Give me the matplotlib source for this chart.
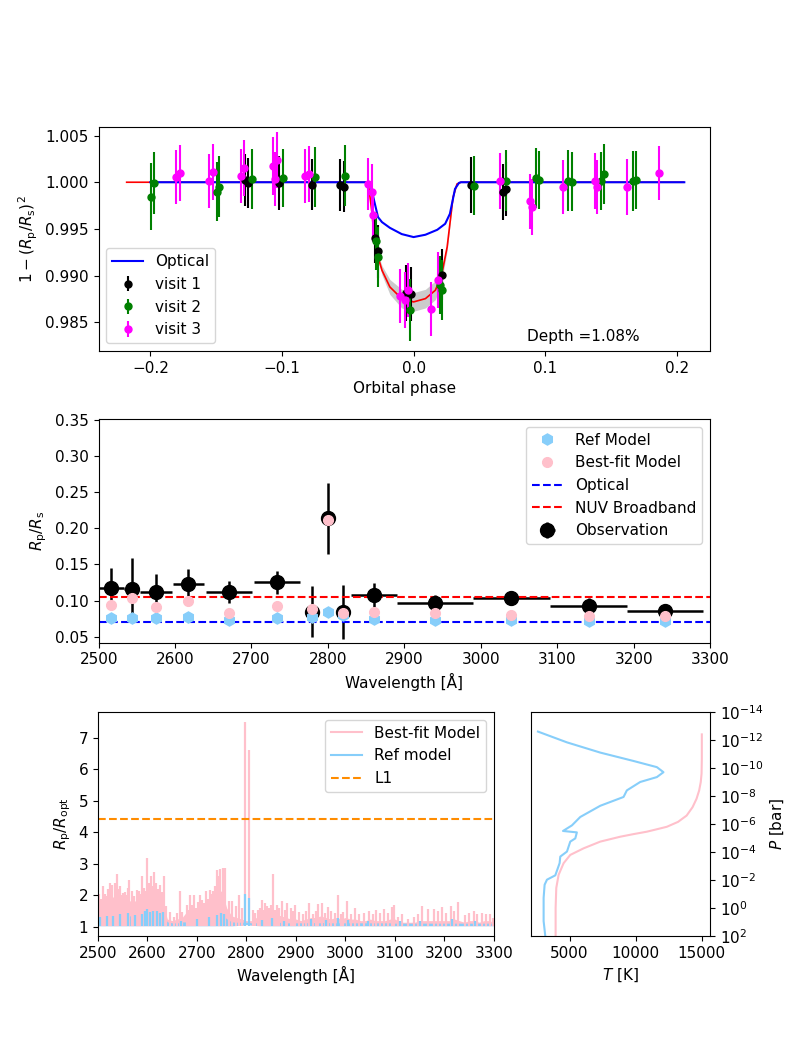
import numpy as np
import matplotlib
matplotlib.use("Agg")
import matplotlib.pyplot as plt
from matplotlib.lines import Line2D

# ---------------- data: light curve ----------------
blue_phase = [-0.200, -0.0330, -0.0300, -0.0270, -0.0240, -0.0180, -0.0090, 0.0, 0.0090, 0.0180, 0.0240, 0.0276, 0.0315, 0.0345, 0.0360, 0.2057]
blue_flux = [1.0, 1.0, 0.99804, 0.99626, 0.99573, 0.99512, 0.99445, 0.99413, 0.99438, 0.99491, 0.99555, 0.99662, 0.99929, 0.99993, 1.0, 1.0]

red_phase = [-0.218, -0.0345, -0.0315, -0.0300, -0.0270, -0.0240, -0.0180, -0.0090, 0.0, 0.0090, 0.0165, 0.0210, 0.0255, 0.0300, 0.0330, 0.0360, 0.205]
red_flux = [1.0, 1.0, 0.9966, 0.9941, 0.9920, 0.99057, 0.98879, 0.98754, 0.98719, 0.98754, 0.98843, 0.98986, 0.99306, 0.99840, 0.99982, 1.0, 1.0]
red_band = [0.0, 0.0, 0.0001, 0.0002, 0.0003, 0.0005, 0.0008, 0.0010, 0.0010, 0.0010, 0.0010, 0.0007, 0.0004, 0.0001, 0.0, 0.0, 0.0]

v1_phase = [-0.1282, -0.1261, -0.1021, -0.0775, -0.0556, -0.0532, -0.0291, -0.0270, -0.0060, -0.0021, 0.0216, 0.0435, 0.0676, 0.0706]
v1_flux = [1.00025, 0.99989, 0.99996, 0.99975, 0.99972, 0.99954, 0.99402, 0.99260, 0.98815, 0.98808, 0.99011, 0.99975, 0.99900, 0.99929]
v1_err = [0.0028, 0.0027, 0.0029, 0.0027, 0.0028, 0.0027, 0.0027, 0.0028, 0.0030, 0.0029, 0.0027, 0.0030, 0.0030, 0.0029]

v2_phase = [-0.1997, -0.1973, -0.1492, -0.1477, -0.1231, -0.0991, -0.0751, -0.0520, -0.0288, -0.0270, -0.0030, 0.0204, 0.0216, 0.0459, 0.0706, 0.0931, 0.0955, 0.1171, 0.1201, 0.1426, 0.1447, 0.1667, 0.1691]
v2_flux = [0.99847, 0.99993, 0.99900, 0.99954, 1.00032, 1.00043, 1.00053, 1.00071, 0.99370, 0.99200, 0.98630, 0.98904, 0.98843, 0.99964, 1.00018, 1.00043, 1.00028, 1.00018, 1.00007, 1.00011, 1.00089, 1.00011, 1.00025]
v2_err = [0.0036, 0.0033, 0.0032, 0.0033, 0.0032, 0.0031, 0.0032, 0.0033, 0.0031, 0.0032, 0.0033, 0.0031, 0.0032, 0.0032, 0.0033, 0.0032, 0.0031, 0.0033, 0.0032, 0.0031, 0.0032, 0.0032, 0.0031]

v3_phase = [-0.1802, -0.1772, -0.1553, -0.1526, -0.1312, -0.1285, -0.1066, -0.1051, -0.1036, -0.0826, -0.0796, -0.0345, -0.0315, -0.0306, -0.0105, -0.0066, -0.0045, 0.0135, 0.0189, 0.0655, 0.0886, 0.0901, 0.1135, 0.1375, 0.1390, 0.1622, 0.1868]
v3_flux = [1.00053, 1.00096, 1.00011, 1.00107, 1.00071, 1.00149, 1.00171, 1.00036, 1.00238, 1.00071, 1.00089, 0.99982, 0.99900, 0.99644, 0.98779, 0.98744, 0.98843, 0.98641, 0.98950, 1.00011, 0.99794, 0.99733, 0.99947, 1.00018, 0.99947, 0.99954, 1.00103]
v3_err = [0.0029, 0.0030, 0.0029, 0.0030, 0.0029, 0.0030, 0.0031, 0.0029, 0.0030, 0.0029, 0.0030, 0.0028, 0.0029, 0.0028, 0.0029, 0.0030, 0.0029, 0.0029, 0.0030, 0.0030, 0.0029, 0.0030, 0.0029, 0.0030, 0.0029, 0.0030, 0.0029]

# ---------------- data: transmission spectrum ----------------
obs_wave = [2516.5, 2543.4, 2575.5, 2617.4, 2670.2, 2733.3, 2779.8, 2800.0, 2820.2, 2860.0, 2940.2, 3040.0, 3141.0, 3240.8]
obs_wave_err = [17, 10, 21, 20, 30, 30, 9, 0, 8, 30, 50, 50, 50, 50]
obs_rp = [0.1169, 0.1165, 0.1123, 0.1229, 0.1123, 0.1253, 0.0846, 0.2139, 0.0846, 0.1077, 0.0962, 0.1031, 0.0924, 0.0855]
obs_rp_err = [0.028, 0.042, 0.025, 0.021, 0.015, 0.0156, 0.035, 0.049, 0.0375, 0.017, 0.0115, 0.009, 0.0106, 0.0095]
ref_rp = [0.0754, 0.0760, 0.0754, 0.0768, 0.0730, 0.0754, 0.0768, 0.0846, 0.0800, 0.0740, 0.0730, 0.0730, 0.0722, 0.0722]
bestfit_rp = [0.0938, 0.1031, 0.0905, 0.0994, 0.0832, 0.0929, 0.0878, 0.2120, 0.0832, 0.0846, 0.0822, 0.0800, 0.0786, 0.0786]
optical_rp = 0.0707
nuv_rp = 0.1048

# ---------------- data: high-resolution model spectra ----------------
grid_wave = list(range(2500, 3301, 10))
baseline = [1.04] * 28 + [1.045, 1.06, 1.08, 1.06, 1.045] + [1.04] * 48
bf_env = [1.7, 1.85, 1.9, 1.95, 1.95, 1.8, 1.85, 1.8, 1.85, 1.85,
          2.0, 2.05, 1.95, 1.8, 1.25, 1.2, 1.25, 1.3, 1.5, 1.45,
          1.45, 1.55, 1.6, 1.75, 2.05, 2.15, 1.6, 1.35, 1.3, 1.25,
          1.2, 1.2, 1.3, 1.45, 1.4, 1.4, 1.4, 1.35, 1.3, 1.25,
          1.25, 1.2, 1.25, 1.3, 1.3, 1.35, 1.3, 1.25, 1.3, 1.25,
          1.3, 1.25, 1.25, 1.2, 1.2, 1.25, 1.2, 1.2, 1.2, 1.25,
          1.25, 1.15, 1.15, 1.15, 1.15, 1.2, 1.2, 1.2, 1.2, 1.2,
          1.2, 1.2, 1.25, 1.2, 1.15, 1.2, 1.2, 1.15, 1.2, 1.2, 1.15]
ref_env = [1.22, 1.27, 1.3, 1.33, 1.36, 1.33, 1.37, 1.33, 1.3, 1.33,
           1.43, 1.45, 1.43, 1.42, 1.16, 1.13, 1.13, 1.16, 1.16, 1.2,
           1.2, 1.21, 1.26, 1.3, 1.36, 1.38, 1.26, 1.16, 1.15, 1.15,
           1.15, 1.13, 1.13, 1.14, 1.16, 1.19, 1.16, 1.14, 1.13, 1.13,
           1.13, 1.13, 1.13, 1.15, 1.13, 1.13, 1.15, 1.13, 1.13, 1.13,
           1.13, 1.13, 1.13, 1.13, 1.13, 1.13, 1.13, 1.13, 1.13, 1.13,
           1.12, 1.12, 1.12, 1.12, 1.12, 1.12, 1.12, 1.12, 1.12, 1.12,
           1.12, 1.12, 1.12, 1.12, 1.12, 1.12, 1.12, 1.12, 1.12, 1.12, 1.12]

bf_spike_wave = [2503, 2507, 2511, 2514, 2517, 2521, 2525, 2529, 2534, 2539, 2542, 2545, 2548, 2551, 2554, 2557,
                 2560, 2563, 2568, 2573, 2578, 2583, 2586, 2588, 2591, 2593, 2597,
                 2600, 2603, 2606, 2608, 2611, 2614, 2618, 2622, 2625, 2629, 2633, 2638, 2645, 2654, 2659, 2666,
                 2670, 2679, 2683, 2686, 2690, 2694, 2699, 2703,
                 2706, 2711, 2715, 2718, 2722, 2726, 2729, 2732, 2736, 2741, 2744, 2747, 2752, 2757, 2764, 2770,
                 2778, 2785, 2790, 2797.6, 2804.4,
                 2813, 2818, 2824, 2828, 2831, 2835, 2838, 2842, 2845, 2849, 2853, 2857, 2861, 2866, 2872, 2877,
                 2882, 2889, 2894, 2899, 2907, 2914, 2920, 2927, 2934, 2940, 2945, 2952, 2958,
                 2964, 2971, 2978, 2984, 2990, 2995, 3003, 3012, 3020, 3028, 3037, 3047, 3055, 3062, 3070, 3078,
                 3086, 3093, 3098, 3107, 3115,
                 3126, 3138, 3146, 3155, 3167, 3179, 3186, 3194, 3203, 3213, 3220, 3228, 3241, 3250, 3259, 3266,
                 3275, 3284, 3292, 3299]
bf_spike_val = [2.04, 1.9, 2.29, 2.05, 1.97, 2.2, 2.4, 2.34, 2.4, 2.67, 2.2, 2.29, 2.0, 2.08, 2.1, 2.0,
                2.25, 2.5, 2.13, 1.97, 2.18, 2.13, 2.05, 2.61, 2.1, 2.24, 2.15,
                3.2, 2.4, 2.2, 2.61, 2.3, 2.74, 2.4, 2.2, 2.34, 2.1, 2.63, 1.65, 1.48, 1.32, 1.43, 2.13,
                1.48, 1.7, 1.55, 2.0, 1.7, 2.02, 1.59, 1.8,
                2.02, 1.86, 1.75, 2.13, 1.9, 2.18, 2.05, 2.13, 2.3, 2.8, 2.6, 2.85, 2.88, 2.88, 1.81, 1.81,
                1.65, 2.02, 1.6, 7.49, 6.6,
                1.53, 1.45, 1.54, 1.6, 1.84, 1.55, 1.75, 1.65, 1.6, 1.7, 2.67, 1.55, 1.7, 1.6, 1.81, 1.55,
                1.75, 1.59, 1.5, 1.7, 1.48, 1.42, 1.5, 1.77, 1.42, 1.5, 1.73, 1.75, 1.45,
                1.62, 1.52, 1.45, 2.02, 1.4, 1.48, 1.83, 1.4, 1.61, 1.42, 1.45, 1.5, 1.4, 1.54, 1.45, 1.56,
                1.45, 1.62, 1.7, 1.32, 1.42,
                1.24, 1.32, 1.42, 1.65, 1.57, 1.56, 1.5, 1.62, 1.45, 1.67, 1.5, 1.78, 1.38, 1.45, 1.5, 1.42,
                1.43, 1.4, 1.4, 1.27]
ref_spike_wave = [2505, 2518, 2530, 2545, 2560, 2575, 2588, 2595, 2600, 2605, 2612, 2620, 2626, 2632, 2668, 2700,
                  2725, 2740, 2748, 2755, 2797.6, 2804.4, 2832, 2852, 2875, 2930, 2960, 2985, 3005, 3045, 3110,
                  3150, 3215, 3262]
ref_spike_val = [1.3, 1.34, 1.36, 1.4, 1.44, 1.38, 1.42, 1.5, 1.56, 1.46, 1.5, 1.5, 1.45, 1.47, 1.2, 1.24,
                 1.3, 1.38, 1.45, 1.42, 2.05, 1.92, 1.22, 1.28, 1.2, 1.26, 1.22, 1.28, 1.22, 1.2, 1.18,
                 1.18, 1.26, 1.18]
L1_level = 4.43

# ---------------- data: temperature-pressure profiles ----------------
ref_T = [2607, 4800, 7318, 9837, 11600, 12100, 11600, 10340, 9330, 9080, 7318, 5806, 5176, 4500, 5550,
         5430, 5050, 4800, 4295, 4244, 3917, 3287, 3110, 3035, 3035, 3160]
ref_logP = [-12.6, -11.83, -11.1, -10.5, -10.06, -9.7, -9.35, -9.0, -8.4, -7.93, -7.3, -6.5, -5.9, -5.5, -5.4,
            -4.97, -4.74, -4.03, -3.67, -3.2, -2.33, -2.02, -1.66, -0.72, 0.94, 2.0]
bf_T = [15000, 15000, 14980, 14920, 14800, 14600, 14300, 13850, 13200, 12355, 11500, 10845, 9800, 8830, 7318,
        6058, 5050, 4547, 4169, 3992, 3942, 3942]
bf_logP = [-12.4, -10.65, -9.6, -9.0, -8.4, -7.8, -7.2, -6.6, -6.15, -5.8, -5.6, -5.45, -5.27, -5.09, -4.74,
           -4.26, -3.79, -3.2, -2.37, -1.43, 0.0, 2.0]

# ---------------- figure ----------------
plt.rcParams['font.family'] = ['DejaVu Sans']
plt.rcParams['font.size'] = 10
fig = plt.figure(figsize=(7.89, 10.52), dpi=100)

ax1 = fig.add_axes([0.125, 0.6663, 0.775, 0.2134])
ax2 = fig.add_axes([0.125, 0.3891, 0.775, 0.2126])
ax3 = fig.add_axes([0.1242, 0.1103, 0.5019, 0.2129])
ax4 = fig.add_axes([0.673, 0.1103, 0.2269, 0.2129])

# --- panel 1: light curve
rp = np.array(red_phase); rf = np.array(red_flux); rb = np.array(red_band)
ax1.fill_between(rp, rf - rb, rf + rb, color='0.75', alpha=0.8, lw=0)
ax1.plot(red_phase, red_flux, color='red', lw=1.2)
l_opt, = ax1.plot(blue_phase, blue_flux, color='blue', lw=1.5, label='Optical')
e1 = ax1.errorbar(v1_phase, v1_flux, yerr=v1_err, fmt='o', color='k', ms=5, elinewidth=1.5, label='visit 1')
e2 = ax1.errorbar(v2_phase, v2_flux, yerr=v2_err, fmt='o', color='green', ms=5, elinewidth=1.5, label='visit 2')
e3 = ax1.errorbar(v3_phase, v3_flux, yerr=v3_err, fmt='o', color='magenta', ms=5, elinewidth=1.5, label='visit 3')
ax1.set_xlim(-0.2393, 0.2253)
ax1.set_ylim(0.98193, 1.00596)
ax1.set_xticks([-0.2, -0.1, 0.0, 0.1, 0.2])
ax1.set_yticks([0.985, 0.990, 0.995, 1.000, 1.005])
ax1.set_xlabel('Orbital phase')
ax1.set_ylabel(r'$1-(R_{\rm p}/R_{\rm s})^2$')
ax1.legend(handles=[l_opt, e1, e2, e3], loc='lower left', fontsize=11)
ax1.text(0.70, 0.065, 'Depth =1.08%', transform=ax1.transAxes, fontsize=11, va='center')

# --- panel 2: transmission spectrum
eo = ax2.errorbar(obs_wave, obs_rp, xerr=obs_wave_err, yerr=obs_rp_err, fmt='o', color='k', ms=10,
                  elinewidth=1.8, label='Observation')
s_ref, = ax2.plot(obs_wave, ref_rp, 'h', color='lightskyblue', ms=8, ls='none', label='Ref Model', zorder=3)
s_bf, = ax2.plot(obs_wave, bestfit_rp, 'o', color='pink', ms=7, ls='none', label='Best-fit Model', zorder=3)
l_o = ax2.axhline(optical_rp, color='blue', ls='--', lw=1.5, label='Optical')
l_n = ax2.axhline(nuv_rp, color='red', ls='--', lw=1.5, label='NUV Broadband')
ax2.set_xlim(2500, 3300)
ax2.set_ylim(0.0417, 0.3514)
ax2.set_yticks([0.05, 0.10, 0.15, 0.20, 0.25, 0.30, 0.35])
ax2.set_xlabel('Wavelength [Å]')
ax2.set_ylabel(r'$R_{\rm p}/R_{\rm s}$')
ax2.legend(handles=[s_ref, s_bf, l_o, l_n, eo], loc='upper right', fontsize=11)

# --- panel 3: model spectra
gw = np.array(grid_wave, dtype=float)
ax3.fill_between(gw, baseline, bf_env, color='pink', lw=0)
ax3.vlines(bf_spike_wave, 1.04, bf_spike_val, color='pink', lw=1.6)
ax3.fill_between(gw, baseline, ref_env, color='lightskyblue', lw=0)
ax3.vlines(ref_spike_wave, 1.04, ref_spike_val, color='lightskyblue', lw=1.6)
ax3.axhline(L1_level, color='darkorange', ls='--', lw=1.5)
h3 = [Line2D([], [], color='pink', lw=1.5, label='Best-fit Model'),
      Line2D([], [], color='lightskyblue', lw=1.5, label='Ref model'),
      Line2D([], [], color='darkorange', ls='--', lw=1.5, label='L1')]
ax3.legend(handles=h3, loc='upper right', fontsize=11)
ax3.set_xlim(2500, 3300)
ax3.set_ylim(0.715, 7.81)
ax3.set_xticks(range(2500, 3301, 100))
ax3.set_yticks([1, 2, 3, 4, 5, 6, 7])
ax3.set_xlabel('Wavelength [Å]')
ax3.set_ylabel(r'$R_{\rm p}/R_{\rm opt}$')

# --- panel 4: T-P profiles
ax4.plot(ref_T, 10.0 ** np.array(ref_logP), color='lightskyblue', lw=1.5)
ax4.plot(bf_T, 10.0 ** np.array(bf_logP), color='pink', lw=1.5)
ax4.set_yscale('log')
ax4.set_ylim(1e2, 1e-14)
ax4.set_xlim(2080, 15620)
ax4.set_yticks([10.0 ** k for k in range(-14, 3, 2)])
ax4.yaxis.set_minor_locator(matplotlib.ticker.NullLocator())
ax4.yaxis.tick_right()
ax4.yaxis.set_label_position('right')
ax4.set_xticks([5000, 10000, 15000])
ax4.set_xlabel(r'$T$ [K]')
ax4.set_ylabel(r'$P$ [bar]')

for ax in (ax1, ax2, ax3, ax4):
    ax.tick_params(labelsize=11)
    ax.xaxis.label.set_size(11)
    ax.yaxis.label.set_size(11)

fig.savefig('out.png', dpi=100)
